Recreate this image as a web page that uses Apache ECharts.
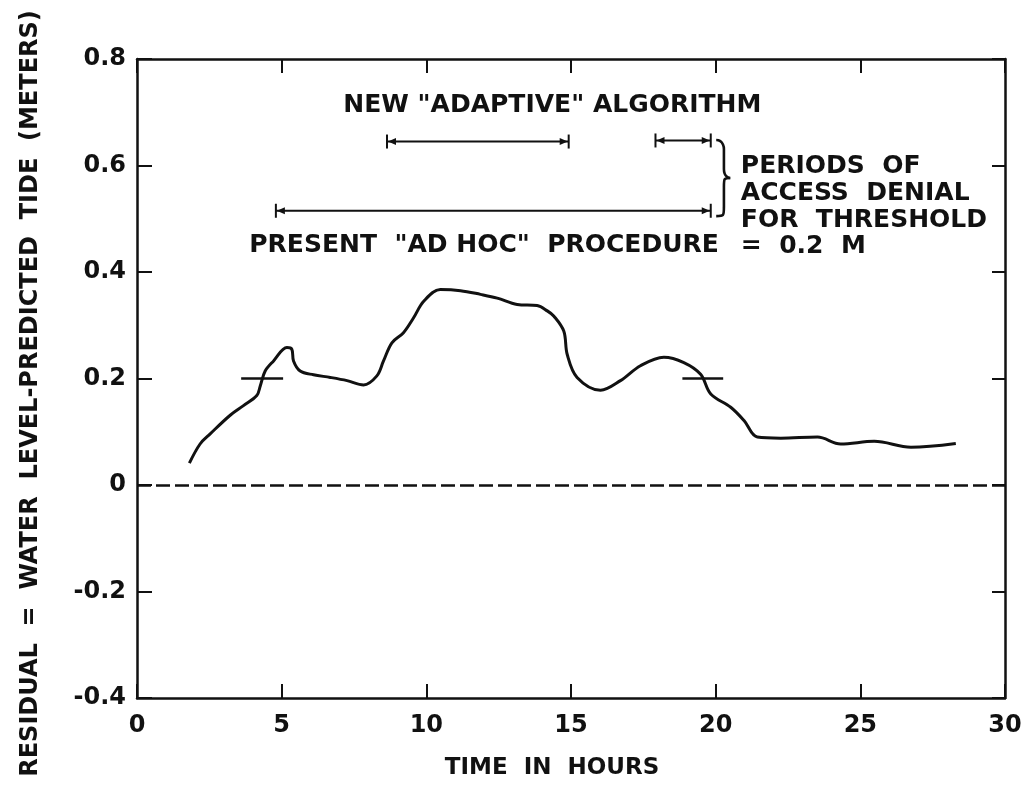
<!DOCTYPE html>
<html>
<head>
<meta charset="utf-8">
<script src="https://cdn.jsdelivr.net/npm/echarts@6/dist/echarts.min.js"></script>
<style>
  html, body { margin: 0; padding: 0; background: #fff; }
  #chart { width: 1029px; height: 791px; }
</style>
</head>
<body>
<div id="chart"></div>
<script>
// residual curve: [hours, meters]
const residualHours = [
  1.81, 2.18, 2.53, 3.22, 3.68, 4.14, 4.26, 4.43, 4.72, 5.18, 5.35, 5.41, 5.64,
  6.10, 6.68, 7.26, 7.83, 8.29, 8.52, 8.81, 9.21, 9.56, 9.91, 10.48, 11.18,
  11.87, 12.45, 13.14, 13.83, 14.18, 14.41, 14.75, 14.87, 15.21, 16.02, 16.71,
  17.40, 18.21, 18.90, 19.48, 19.83, 20.52, 20.98, 21.44, 22.25, 23.52, 24.32,
  25.48, 26.75, 28.30,
];
const residualMeters = [
  0.041, 0.077, 0.096, 0.131, 0.149, 0.168, 0.186, 0.214, 0.233, 0.258, 0.255,
  0.233, 0.214, 0.207, 0.202, 0.196, 0.188, 0.205, 0.233, 0.267, 0.286, 0.314,
  0.345, 0.367, 0.365, 0.358, 0.351, 0.339, 0.337, 0.327, 0.317, 0.289, 0.245,
  0.202, 0.178, 0.196, 0.224, 0.240, 0.230, 0.208, 0.171, 0.146, 0.121, 0.090,
  0.088, 0.090, 0.077, 0.082, 0.071, 0.078,
];

// short threshold marks at 0.2 m: [startHour, endHour, meters]
const thresholdMarks = [[3.6, 5.05, 0.2], [18.85, 20.26, 0.2]];

// access denial periods: [startHour, endHour, barHeight]
const adaptivePeriods = [[8.64, 14.92, 0.645], [17.92, 19.83, 0.647]];
const adHocPeriods = [[4.80, 19.83, 0.515]];

// brace grouping the periods: [hour, topMeters, bottomMeters]
const braceSpan = [[19.95, 0.648, 0.505]];

// annotation text: [hour, meters, text]
const annotations = [
  [7.13, 0.712, 'NEW "ADAPTIVE" ALGORITHM'],
  [3.88, 0.449, 'PRESENT  "AD HOC"  PROCEDURE'],
  [20.87, 0.598, 'PERIODS  OF'],
  [20.87, 0.547, 'ACCESS  DENIAL'],
  [20.87, 0.496, 'FOR  THRESHOLD'],
  [20.87, 0.447, '=  0.2  M'],
];

const xTicks = [0, 5, 10, 15, 20, 25, 30];
const yTicks = [-0.4, -0.2, 0, 0.2, 0.4, 0.6, 0.8];

const FONT = '"DejaVu Sans", sans-serif';
const INK = '#111';

function renderPeriod(params, api) {
  const a = api.coord([api.value(0), api.value(2)]);
  const b = api.coord([api.value(1), api.value(2)]);
  const y = a[1];
  const h = 7;
  const ah = 9;
  const aw = 3.5;
  const style = { stroke: INK, lineWidth: 2 };
  return {
    type: 'group',
    children: [
      { type: 'line', shape: { x1: a[0], y1: y, x2: b[0], y2: y }, style },
      { type: 'line', shape: { x1: a[0], y1: y - h, x2: a[0], y2: y + h }, style },
      { type: 'line', shape: { x1: b[0], y1: y - h, x2: b[0], y2: y + h }, style },
      { type: 'polygon', shape: { points: [[a[0] + 1, y], [a[0] + ah, y - aw], [a[0] + ah, y + aw]] }, style: { fill: INK } },
      { type: 'polygon', shape: { points: [[b[0] - 1, y], [b[0] - ah, y - aw], [b[0] - ah, y + aw]] }, style: { fill: INK } },
    ],
  };
}

function renderBrace(params, api) {
  const top = api.coord([api.value(0), api.value(1)]);
  const bot = api.coord([api.value(0), api.value(2)]);
  const x = top[0] + 2;
  const mid = (top[1] + bot[1]) / 2;
  const w = 14;
  const r = 9;
  const style = { stroke: INK, lineWidth: 2.6, fill: null };
  const xb = x + w * 0.55;
  return {
    type: 'group',
    children: [
      { type: 'bezierCurve', shape: { x1: x, y1: top[1], cpx1: xb, cpy1: top[1], cpx2: xb, cpy2: top[1] + r, x2: xb, y2: top[1] + r }, style },
      { type: 'line', shape: { x1: xb, y1: top[1] + r, x2: xb, y2: mid - r }, style },
      { type: 'bezierCurve', shape: { x1: xb, y1: mid - r, cpx1: xb, cpy1: mid, cpx2: x + w, cpy2: mid, x2: x + w, y2: mid }, style },
      { type: 'bezierCurve', shape: { x1: x + w, y1: mid, cpx1: xb, cpy1: mid, cpx2: xb, cpy2: mid, x2: xb, y2: mid + r }, style },
      { type: 'line', shape: { x1: xb, y1: mid + r, x2: xb, y2: bot[1] - r }, style },
      { type: 'bezierCurve', shape: { x1: xb, y1: bot[1] - r, cpx1: xb, cpy1: bot[1], cpx2: xb, cpy2: bot[1], x2: x, y2: bot[1] }, style },
    ],
  };
}

function renderText(params, api) {
  const p = api.coord([api.value(0), api.value(1)]);
  return {
    type: 'text',
    x: p[0],
    y: p[1],
    style: {
      text: annotations[params.dataIndex][2],
      fill: INK,
      font: `bold 25px ${FONT}`,
      align: 'left',
      verticalAlign: 'middle',
    },
  };
}

const axisLineStyle = { color: INK, width: 2.5 };
const tickStyle = { color: INK, width: 2 };

const chart = echarts.init(document.getElementById('chart'), null, { renderer: 'canvas' });

const option = {
  backgroundColor: '#fff',
  animation: false,
  grid: { left: 137, right: 24, top: 59, bottom: 93 },
  xAxis: [
    {
      type: 'value',
      min: xTicks[0],
      max: xTicks[xTicks.length - 1],
      interval: 5,
      position: 'bottom',
      name: 'TIME  IN  HOURS',
      nameLocation: 'middle',
      nameGap: 59,
      nameTextStyle: {
        color: INK, fontFamily: FONT, fontWeight: 'bold', fontSize: 23, padding: [0, 38, 0, 0],
      },
      axisLine: { show: true, onZero: false, lineStyle: axisLineStyle },
      axisTick: { show: true, inside: true, length: 14, lineStyle: tickStyle },
      axisLabel: { color: INK, fontFamily: FONT, fontWeight: 'bold', fontSize: 24, margin: 16 },
      splitLine: { show: false },
    },
    {
      type: 'value',
      min: xTicks[0],
      max: xTicks[xTicks.length - 1],
      interval: 5,
      position: 'top',
      axisLine: { show: true, onZero: false, lineStyle: axisLineStyle },
      axisTick: { show: true, inside: true, length: 14, lineStyle: tickStyle },
      axisLabel: { show: false },
      splitLine: { show: false },
    },
  ],
  yAxis: [
    {
      type: 'value',
      min: yTicks[0],
      max: yTicks[yTicks.length - 1],
      interval: 0.2,
      position: 'left',
      name: 'RESIDUAL  =  WATER  LEVEL-PREDICTED  TIDE  (METERS)',
      nameLocation: 'middle',
      nameGap: 94,
      nameTextStyle: {
        color: INK, fontFamily: FONT, fontWeight: 'bold', fontSize: 24, padding: [0, 30, 0, 0],
      },
      axisLine: { show: true, onZero: false, lineStyle: axisLineStyle },
      axisTick: { show: true, inside: true, length: 15, lineStyle: tickStyle },
      axisLabel: {
        color: INK, fontFamily: FONT, fontWeight: 'bold', fontSize: 24, margin: 11,
        formatter: (v) => (v === 0 ? '0' : v.toFixed(1)),
      },
      splitLine: { show: false },
    },
    {
      type: 'value',
      min: yTicks[0],
      max: yTicks[yTicks.length - 1],
      interval: 0.2,
      position: 'right',
      axisLine: { show: true, onZero: false, lineStyle: axisLineStyle },
      axisTick: { show: true, inside: true, length: 13, lineStyle: tickStyle },
      axisLabel: { show: false },
      splitLine: { show: false },
    },
  ],
  series: [
    {
      type: 'line',
      data: residualHours.map((h, i) => [h, residualMeters[i]]),
      smooth: 0.35,
      showSymbol: false,
      lineStyle: { color: INK, width: 3 },
      z: 3,
      markLine: {
        silent: true,
        symbol: ['none', 'none'],
        label: { show: false },
        data: [
          [{ coord: [xTicks[0], 0], lineStyle: { type: [14, 5], width: 2.5, color: INK } },
            { coord: [xTicks[xTicks.length - 1], 0] }],
          ...thresholdMarks.map(([a, b, v]) => [
            { coord: [a, v], lineStyle: { type: 'solid', width: 2.5, color: INK } },
            { coord: [b, v] },
          ]),
        ],
      },
    },
    {
      type: 'custom',
      renderItem: renderPeriod,
      data: adaptivePeriods.concat(adHocPeriods),
      silent: true,
      z: 4,
    },
    {
      type: 'custom',
      renderItem: renderBrace,
      data: braceSpan,
      silent: true,
      z: 4,
    },
    {
      type: 'custom',
      renderItem: renderText,
      data: annotations.map((a) => [a[0], a[1]]),
      silent: true,
      z: 5,
    },
  ],
};

chart.setOption(option);
</script>
</body>
</html>
